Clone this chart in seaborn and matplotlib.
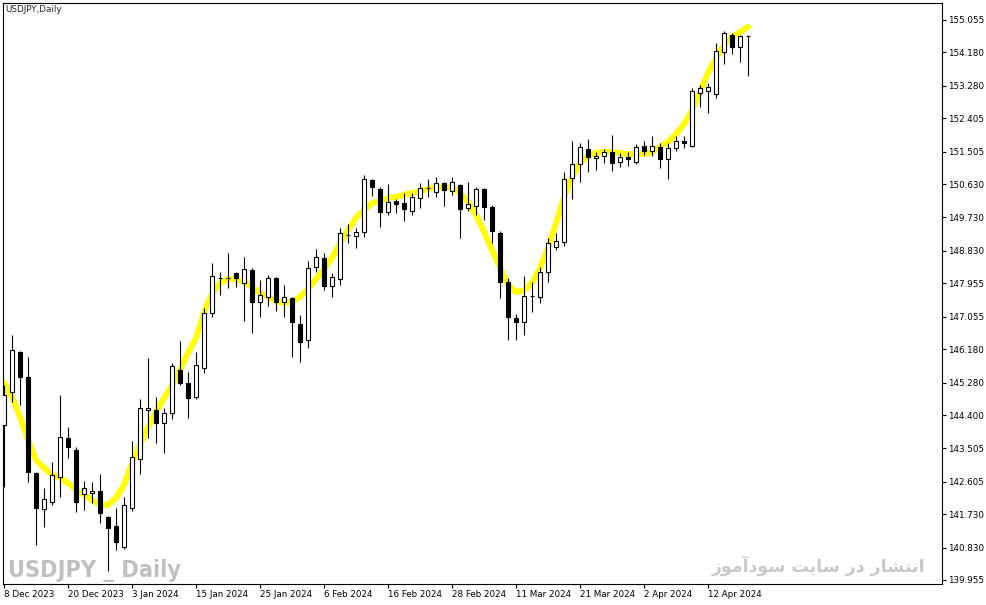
import matplotlib
matplotlib.use("Agg")
import matplotlib.pyplot as plt
import numpy as np
import pandas as pd
import seaborn as sns
from matplotlib import font_manager

# USDJPY daily bars, 8 Dec 2023 .. 19 Apr 2024 (broker has no 25 Dec / 1 Jan bars)
opens = [
    144.13, 145.02, 146.10, 145.43, 142.84, 141.87, 142.06, 142.73, 143.78, 143.46,
    142.27, 142.30, 142.36, 141.65, 141.41, 140.85, 141.90, 143.22, 144.54, 144.54,
    144.19, 144.46, 145.62, 145.27, 144.89, 145.67, 147.15, 148.10, 148.10, 148.23,
    147.96, 148.31, 147.45, 147.59, 148.10, 147.45, 147.56, 146.86, 146.43, 148.40,
    148.64, 147.88, 148.07, 149.26, 149.23, 149.34, 150.74, 150.50, 149.88, 150.17,
    150.12, 149.91, 150.26, 150.53, 150.42, 150.66, 150.44, 150.61, 149.99, 150.04,
    150.50, 150.01, 149.31, 147.99, 147.02, 146.91, 147.61, 147.59, 148.26, 148.93,
    149.07, 150.79, 151.17, 151.58, 151.33, 151.39, 151.50, 151.23, 151.36, 151.23,
    151.66, 151.52, 151.63, 151.31, 151.60, 151.79, 151.66, 153.09, 153.14, 153.06,
    154.19, 154.65, 154.33, 154.62,
]
highs = [
    145.21, 146.56, 146.13, 145.97, 142.87, 142.44, 143.14, 144.94, 144.08, 143.54,
    142.62, 142.60, 142.81, 141.68, 141.90, 142.19, 143.70, 144.84, 145.94, 144.89,
    144.59, 145.81, 146.40, 145.56, 146.10, 147.29, 148.50, 148.26, 148.77, 148.26,
    148.66, 148.37, 148.04, 148.18, 148.13, 147.91, 147.59, 147.10, 148.56, 148.88,
    148.77, 148.23, 149.45, 149.55, 149.45, 150.88, 150.77, 150.55, 150.63, 150.23,
    150.39, 150.39, 150.66, 150.77, 150.82, 150.69, 150.82, 150.63, 150.69, 150.55,
    150.53, 150.07, 149.37, 148.10, 147.13, 148.15, 147.99, 148.40, 149.18, 149.31,
    150.96, 151.79, 151.74, 151.85, 151.50, 151.58, 151.95, 151.47, 151.50, 151.71,
    151.79, 151.93, 151.74, 151.74, 151.93, 151.93, 153.22, 153.30, 153.36, 154.43,
    154.76, 154.70, 154.65, 154.65,
]
lows = [
    142.46, 144.75, 144.67, 142.60, 140.90, 141.38, 141.98, 142.19, 143.24, 141.79,
    141.84, 142.03, 141.49, 140.20, 140.76, 140.79, 141.82, 142.81, 143.78, 143.65,
    143.38, 144.30, 145.21, 144.32, 144.84, 145.54, 147.05, 147.64, 147.83, 147.86,
    146.94, 146.62, 147.05, 147.34, 147.21, 147.05, 145.97, 145.83, 146.21, 148.26,
    147.77, 147.59, 147.91, 149.04, 148.91, 149.20, 150.31, 149.47, 149.80, 149.85,
    149.64, 149.80, 149.99, 150.28, 150.28, 150.04, 150.34, 149.18, 149.91, 149.80,
    149.66, 149.04, 147.56, 146.43, 146.43, 146.56, 147.18, 147.42, 147.99, 148.85,
    148.96, 150.23, 150.69, 150.96, 151.01, 151.20, 150.98, 151.09, 151.12, 151.17,
    151.41, 151.39, 151.06, 150.77, 151.52, 151.60, 151.63, 152.71, 152.55, 152.95,
    153.87, 154.14, 153.92, 153.55,
]
closes = [
    144.94, 146.16, 145.43, 142.87, 141.90, 142.14, 142.79, 143.81, 143.54, 142.06,
    142.44, 142.36, 141.76, 141.36, 140.98, 141.98, 143.27, 144.59, 144.59, 144.19,
    144.46, 145.73, 145.27, 144.86, 145.75, 147.15, 148.15, 148.11, 148.09, 148.10,
    148.34, 147.45, 147.64, 148.10, 147.45, 147.59, 146.91, 146.37, 148.37, 148.66,
    147.88, 148.13, 149.31, 149.25, 149.34, 150.77, 150.55, 149.88, 150.15, 150.09,
    149.96, 150.28, 150.53, 150.52, 150.66, 150.47, 150.69, 149.96, 150.09, 150.50,
    150.01, 149.37, 147.99, 147.05, 146.91, 147.61, 147.62, 148.26, 149.04, 149.10,
    150.77, 151.17, 151.63, 151.36, 151.39, 151.50, 151.20, 151.36, 151.32, 151.63,
    151.52, 151.66, 151.31, 151.60, 151.79, 151.74, 153.14, 153.22, 153.25, 154.22,
    154.70, 154.33, 154.62, 154.63,
]
# yellow smoothed moving average, one value per bar
ma = [
    145.27, 144.89, 144.35, 143.73, 143.19, 142.98, 142.79, 142.71, 142.57, 142.38,
    142.25, 142.11, 141.98, 141.98, 142.17, 142.52, 143.11, 143.60, 144.08, 144.49,
    144.86, 145.21, 145.62, 146.08, 146.48, 147.18, 147.69, 147.96, 148.07, 148.07,
    147.99, 147.86, 147.69, 147.59, 147.48, 147.42, 147.45, 147.59, 147.80, 148.07,
    148.34, 148.64, 149.04, 149.39, 149.72, 149.93, 150.12, 150.17, 150.26, 150.28,
    150.34, 150.39, 150.44, 150.50, 150.55, 150.55, 150.53, 150.39, 150.15, 149.80,
    149.34, 148.85, 148.37, 147.91, 147.72, 147.77, 147.96, 148.37, 148.91, 149.58,
    150.28, 150.82, 151.20, 151.39, 151.47, 151.50, 151.50, 151.47, 151.44, 151.44,
    151.44, 151.50, 151.63, 151.77, 151.98, 152.25, 152.63, 153.11, 153.63, 154.03,
    154.38, 154.60, 154.73, 154.87,
]

x_labels = ["8 Dec 2023", "20 Dec 2023", "3 Jan 2024", "15 Jan 2024", "25 Jan 2024",
            "6 Feb 2024", "16 Feb 2024", "28 Feb 2024", "11 Mar 2024", "21 Mar 2024",
            "2 Apr 2024", "12 Apr 2024"]
y_labels = ["155.055", "154.180", "153.280", "152.405", "151.505", "150.630",
            "149.730", "148.830", "147.955", "147.055", "146.180", "145.280",
            "144.400", "143.505", "142.605", "141.730", "140.830", "139.955"]

# watermark texts; the Persian one is "انتشار در سایت سودآموز" written in
# Arabic presentation forms, visual order, since matplotlib does no shaping
wm_symbol = "USDJPY _ Daily"
wm_site = "\ufeaf\ufeee\ufee3\ufe81\ufea9\ufeee\ufeb3 \ufe96\ufef3\ufe8e\ufeb3 \ufead\ufea9 \ufead\ufe8e\ufeb8\ufe98\ufee7\ufe8d"

sns.set_style("white")
plt.rcParams["font.family"] = ["DejaVu Sans"]

# narrow bold face for the big watermark, if one is around
names = {f.name for f in font_manager.fontManager.ttflist}
narrow = [n for n in ["Liberation Sans Narrow", "DejaVu Sans Condensed"] if n in names]
condensed = any(f.name == "DejaVu Sans" and f.stretch == "condensed"
                for f in font_manager.fontManager.ttflist)

o = np.array(opens)
h = np.array(highs)
l = np.array(lows)
c = np.array(closes)
idx = np.arange(len(o))
up = c >= o

fig = plt.figure(figsize=(9.87, 6.05), dpi=100)
W, H = 987, 605
ax = fig.add_axes([3 / W, 1 - 584 / H, (942 - 3) / W, (584 - 3) / H])

# watermarks behind everything
if narrow:
    fig.text(8 / W, 1 - 577 / H, wm_symbol, fontsize=18.5, fontweight="bold",
             family=narrow[:1], color="#c0c0c0", va="baseline", ha="left", zorder=0)
elif condensed:
    fig.text(8 / W, 1 - 577 / H, wm_symbol, fontsize=16.8, fontweight="bold",
             family=["DejaVu Sans"], fontstretch="condensed", color="#c0c0c0",
             va="baseline", ha="left", zorder=0)
else:
    fig.text(8 / W, 1 - 577 / H, wm_symbol, fontsize=14, fontweight="bold",
             family=["DejaVu Sans"], color="#c0c0c0", va="baseline", ha="left",
             zorder=0)
fig.text(925 / W, 1 - 566 / H, wm_site, fontsize=12.5, fontweight="bold",
         family=["DejaVu Sans"], color="#c8c8c8", va="center", ha="right", zorder=0)
ax.patch.set_alpha(0)

sns.lineplot(x=idx, y=ma, ax=ax, color="#ffff00", lw=4.3, zorder=1,
             solid_capstyle="round")

ax.vlines(idx, l, h, color="black", lw=0.8, zorder=2)
ax.bar(idx, np.abs(c - o), bottom=np.minimum(o, c), width=0.5,
       color=np.where(up, "white", "black"), edgecolor="black", lw=0.8, zorder=3)

ax.set_xlim(-0.125, 117.25)
ax.set_ylim(139.847, 155.513)

ax.set_xticks(idx[::8][:len(x_labels)], x_labels)
for t in ax.get_xticklabels():
    t.set_horizontalalignment("left")
ax.set_yticks([float(v) for v in y_labels], y_labels)
ax.yaxis.tick_right()
ax.tick_params(axis="both", direction="out", length=3, width=0.8, pad=1.5,
               labelsize=6.3, colors="black", bottom=True, right=True, left=False)
ax.set_xlabel("")
ax.set_ylabel("")
for s in ax.spines.values():
    s.set_visible(True)
    s.set_color("black")
    s.set_linewidth(0.8)

fig.text(5 / W, 1 - 10 / H, "USDJPY,Daily", fontsize=6.3, va="center", ha="left")

fig.savefig("out.png", dpi=100)
